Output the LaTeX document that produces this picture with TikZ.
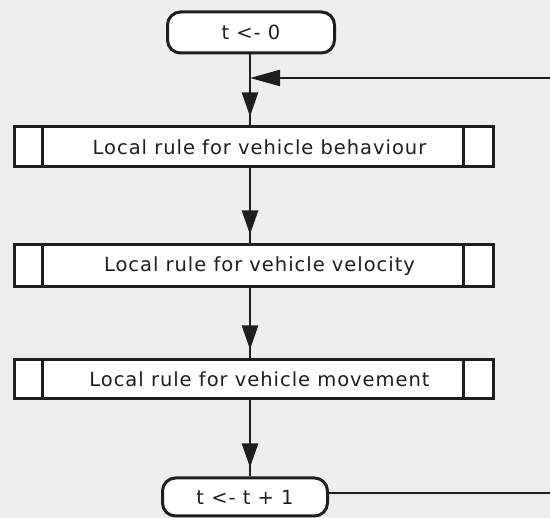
\documentclass[tikz,border=0pt]{standalone}
\usepackage{fontspec}
\setmainfont{DejaVu Sans}[LetterSpace=5]
\usetikzlibrary{arrows.meta}
\definecolor{ink}{RGB}{30,30,30}
\definecolor{paper}{RGB}{238,238,236}
\tikzset{
  lbl/.style={font=\fontsize{19.5}{23}\selectfont, text=ink},
  term/.style={draw=ink, line width=3pt, rounded corners=13pt, fill=white,
    inner sep=0pt, lbl},
  procbox/.style={draw=ink, line width=3pt, fill=white, minimum width=479pt,
    inner sep=0pt, lbl,
    path picture={
      \draw[ink, line width=3pt]
        ([xshift=28pt]path picture bounding box.north west) --
        ([xshift=28pt]path picture bounding box.south west)
        ([xshift=-30pt]path picture bounding box.north east) --
        ([xshift=-30pt]path picture bounding box.south east);}},
  conn/.style={draw=ink, line width=2.4pt},
  tip/.style={-{Triangle[length=24pt,width=16pt]}, shorten >=9pt}
}
\begin{document}
\begin{tikzpicture}[x=1pt,y=-1pt]
\useasboundingbox[fill=paper] (0,0) rectangle (550,518);
\node[term, minimum width=167pt, minimum height=41pt] (t0) at (251,32.5) {t <- 0};
\node[procbox, minimum height=40pt] (b1) at (253.5,147) {\hspace{12pt}Local rule for vehicle behaviour};
\node[procbox, minimum height=42pt] (b2) at (253.5,266) {\hspace{12pt}Local rule for vehicle velocity};
\node[procbox, minimum height=39pt] (b3) at (253.5,379.5) {\hspace{12pt}Local rule for vehicle movement};
\node[term, minimum width=165pt, minimum height=38pt] (t1) at (245,497) {t <- t + 1};
\coordinate (j) at (250,78);
\coordinate (rin) at (550,78);
\coordinate (rout) at (550,493);
\coordinate (t0s) at (250,0 |- t0.south);
\coordinate (b1n) at (t0s |- b1.north);
\coordinate (b1s) at (t0s |- b1.south);
\coordinate (b2n) at (t0s |- b2.north);
\coordinate (b2s) at (t0s |- b2.south);
\coordinate (b3n) at (t0s |- b3.north);
\coordinate (b3s) at (t0s |- b3.south);
\coordinate (t1n) at (t0s |- t1.north);
\draw[conn] (t0s) -- (b1n);
\draw[conn, tip] (j) -- (b1n);
\draw[conn, -{Triangle[length=30pt,width=16pt]}] (rin) -- (j);
\draw[conn] (b1s) -- (b2n);
\draw[conn, tip] (b1s) -- (b2n);
\draw[conn] (b2s) -- (b3n);
\draw[conn, tip] (b2s) -- (b3n);
\draw[conn] (b3s) -- (t1n);
\draw[conn, tip] (b3s) -- (t1n);
\draw[conn] (t1.east |- rout) -- (rout);
\end{tikzpicture}
\end{document}
